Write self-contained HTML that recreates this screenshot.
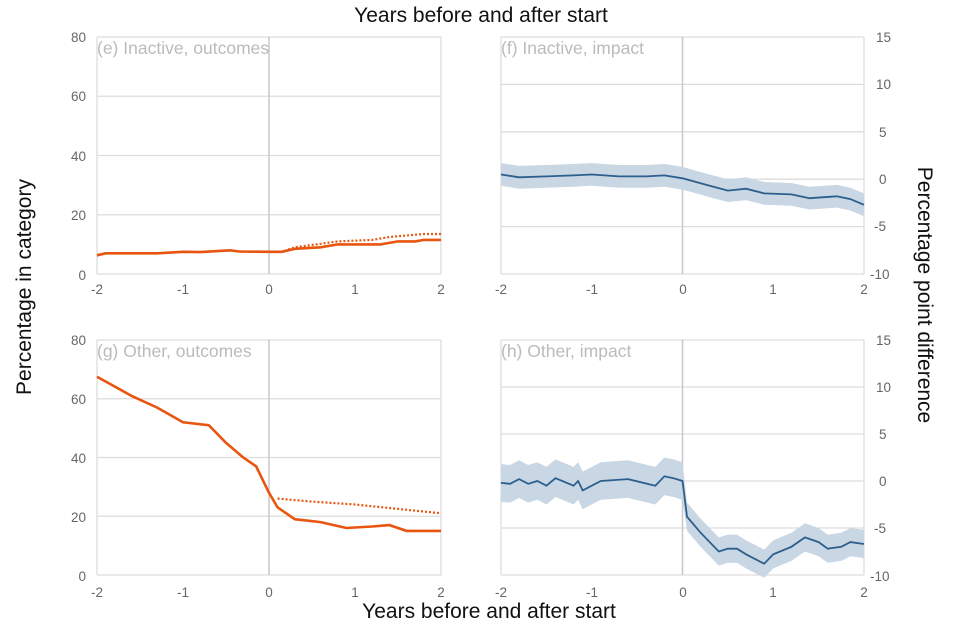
<!DOCTYPE html>
<html><head><meta charset="utf-8"><style>
body{margin:0;background:#fff;}
svg{display:block;font-family:"Liberation Sans",Arial,sans-serif;}
.t{font-size:13.5px;fill:#666;}
.p{font-size:17.5px;fill:#bbb;}
.ax{font-size:21px;fill:#111;}
</style></head><body>
<svg id="s" width="960" height="640" viewBox="0 0 960 640">
<text class="ax" x="481" y="22" text-anchor="middle">Years before and after start</text>
<text class="ax" x="489" y="618" text-anchor="middle">Years before and after start</text>
<text class="ax" transform="translate(31,287) rotate(-90)" text-anchor="middle">Percentage in category</text>
<text class="ax" transform="translate(918,295) rotate(90)" text-anchor="middle">Percentage point difference</text>
<g id="g"></g>
<text class="p" x="97" y="54">(e) Inactive, outcomes</text>
<text class="p" x="501" y="54">(f) Inactive, impact</text>
<text class="p" x="97" y="357">(g) Other, outcomes</text>
<text class="p" x="501" y="357">(h) Other, impact</text>
<g class="t" text-anchor="end">
<text x="86" y="42">80</text><text x="86" y="101">60</text><text x="86" y="161">40</text><text x="86" y="220">20</text><text x="86" y="280">0</text>
<text x="86" y="345">80</text><text x="86" y="404">60</text><text x="86" y="463">40</text><text x="86" y="522">20</text><text x="86" y="581">0</text>
</g>
<g class="t" text-anchor="start">
<text x="876" y="42">15</text><text x="876" y="89">10</text><text x="879" y="137">5</text><text x="879" y="184">0</text><text x="874" y="231">-5</text><text x="870" y="279">-10</text>
<text x="876" y="345">15</text><text x="876" y="392">10</text><text x="879" y="439">5</text><text x="879" y="486">0</text><text x="874" y="533">-5</text><text x="870" y="581">-10</text>
</g>
<g class="t" text-anchor="middle">
<text x="97" y="294">-2</text><text x="183" y="294">-1</text><text x="269" y="294">0</text><text x="355" y="294">1</text><text x="441" y="294">2</text>
<text x="501" y="294">-2</text><text x="592" y="294">-1</text><text x="683" y="294">0</text><text x="773" y="294">1</text><text x="864" y="294">2</text>
<text x="97" y="597">-2</text><text x="183" y="597">-1</text><text x="269" y="597">0</text><text x="355" y="597">1</text><text x="441" y="597">2</text>
<text x="501" y="597">-2</text><text x="592" y="597">-1</text><text x="683" y="597">0</text><text x="773" y="597">1</text><text x="864" y="597">2</text>
</g>
</svg>
<script>
var NS="http://www.w3.org/2000/svg",G=document.getElementById('g');
function el(n,a){var e=document.createElementNS(NS,n);for(var k in a)e.setAttribute(k,a[k]);G.appendChild(e);return e;}
function panel(x0,x1,y0,y1,vmin,vmax,n){
 for(var i=0;i<=n;i++){var y=y0+(y1-y0)*i/n;el('line',{x1:x0,x2:x1,y1:y,y2:y,stroke:'#ddd','stroke-width':1.3});}
 el('line',{x1:x0,x2:x0,y1:y0,y2:y1,stroke:'#ddd','stroke-width':1.3});
 el('line',{x1:x1,x2:x1,y1:y0,y2:y1,stroke:'#ddd','stroke-width':1.3});
 var xm=(x0+x1)/2;el('line',{x1:xm,x2:xm,y1:y0,y2:y1,stroke:'#c8c8c8','stroke-width':1.5});
 return {X:function(t){return x0+(t+2)/4*(x1-x0);},Y:function(v){return y1-(v-vmin)/(vmax-vmin)*(y1-y0);}};
}
function path(P,d,f){return d.map(function(p,i){return (i?'L':'M')+P.X(p[0]).toFixed(1)+','+P.Y(f?f(p):p[1]).toFixed(1);}).join('');}
function band(P,d,w){var a=path(P,d,function(p){return p[1]+w(p[0]);});var r=d.slice().reverse();var b=r.map(function(p){return 'L'+P.X(p[0]).toFixed(1)+','+P.Y(p[1]-w(p[0])).toFixed(1);}).join('');el('path',{d:a+b+'Z',fill:'#c9d6e3'});}
var OR='#e8550f',BL='#2c5f8d';
var E=panel(97,441,37,274,0,80,4);
var eb=[[-2,6.3],[-1.9,7],[-1.3,7],[-1,7.5],[-0.8,7.4],[-0.45,8],[-0.35,7.6],[0,7.5],[0.15,7.5]];
el('path',{d:path(E,eb.concat([[0.3,9],[0.55,10],[0.8,11],[1.2,11.5],[1.4,12.5],[1.8,13.5],[2,13.5]])),fill:'none',stroke:OR,'stroke-width':2.2,'stroke-dasharray':'2,2'});
el('path',{d:path(E,eb.concat([[0.3,8.5],[0.6,9],[0.8,10],[1.3,10],[1.5,11],[1.7,11],[1.8,11.5],[2,11.5]])),fill:'none',stroke:OR,'stroke-width':2.6});
var F=panel(501,864,37,274,-10,15,5);
var fd=[[-2,0.5],[-1.8,0.2],[-1.5,0.3],[-1.2,0.4],[-1,0.5],[-0.7,0.3],[-0.4,0.3],[-0.2,0.4],[0,0.1],[0.15,-0.3],[0.3,-0.7],[0.5,-1.2],[0.7,-1.0],[0.9,-1.5],[1.2,-1.6],[1.4,-2],[1.7,-1.8],[1.85,-2.1],[2,-2.7]];
band(F,fd,function(){return 1.2;});
el('path',{d:path(F,fd),fill:'none',stroke:BL,'stroke-width':1.8});
var Gp=panel(97,441,340,575,0,80,4);
var gb=[[-2,67.5],[-1.6,61],[-1.3,57],[-1,52],[-0.7,51],[-0.5,45],[-0.3,40],[-0.15,37],[0,28],[0.1,23]];
el('path',{d:path(Gp,[[0.1,26],[0.5,25],[1,24],[1.5,22.5],[2,21]]),fill:'none',stroke:OR,'stroke-width':2.2,'stroke-dasharray':'2,2'});
el('path',{d:path(Gp,gb.concat([[0.3,19],[0.6,18],[0.9,16],[1.2,16.5],[1.4,17],[1.6,15],[1.8,15],[2,15]])),fill:'none',stroke:OR,'stroke-width':2.6});
var H=panel(501,864,340,575,-10,15,5);
var hd=[[-2,-0.2],[-1.9,-0.3],[-1.8,0.2],[-1.7,-0.3],[-1.6,0],[-1.5,-0.5],[-1.4,0.3],[-1.2,-0.5],[-1.15,0],[-1.1,-1],[-0.9,0],[-0.6,0.2],[-0.3,-0.5],[-0.2,0.5],[-0.1,0.3],[0,0],[0.05,-3.8],[0.2,-5.5],[0.4,-7.5],[0.5,-7.2],[0.6,-7.2],[0.7,-7.8],[0.9,-8.8],[1,-7.8],[1.2,-7],[1.35,-6],[1.5,-6.5],[1.6,-7.2],[1.75,-7],[1.85,-6.5],[2,-6.7]];
band(H,hd,function(t){return t<=0?2:1.5;});
el('path',{d:path(H,hd),fill:'none',stroke:BL,'stroke-width':1.8});
</script>
</body></html>
